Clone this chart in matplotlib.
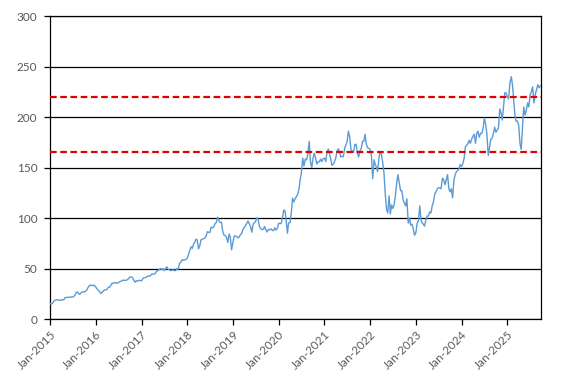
import matplotlib
matplotlib.use("Agg")
import matplotlib.pyplot as plt
import pandas as pd

# Price samples (three per month: days 1, 11, 21)
prices_2015 = [15.4, 14.8, 15.5, 17.7, 18.7, 19.2, 19.0, 18.6, 18.8, 18.6, 19.2, 19.0,
               21.1, 21.3, 21.5, 21.4, 21.8, 21.7, 21.8, 22.5, 24.0, 26.8, 26.5, 24.5,
               25.0, 26.5, 27.0, 26.8, 27.5, 28.5, 31.3, 33.0, 33.5, 33.5, 33.0, 33.5]
prices_2016 = [31.8, 30.0, 28.5, 27.5, 25.2, 26.5, 27.6, 28.9, 28.7, 29.6, 31.5, 31.4,
               33.4, 35.5, 35.3, 36.2, 35.7, 35.6, 36.0, 37.0, 37.3, 38.3, 38.4, 38.3,
               38.5, 38.9, 40.5, 41.5, 41.7, 41.0, 38.3, 36.5, 38.0, 37.5, 38.3, 38.2]
prices_2017 = [37.7, 39.8, 41.0, 41.0, 41.8, 42.6, 42.5, 42.6, 44.3, 44.6, 44.5, 45.3,
               47.4, 47.9, 49.0, 50.0, 49.0, 50.1, 47.9, 49.7, 51.8, 49.4, 48.8, 47.9,
               48.4, 48.7, 47.9, 48.0, 50.0, 49.3, 55.3, 56.3, 58.7, 58.2, 58.5, 58.9]
prices_2018 = [60.2, 63.9, 67.6, 71.6, 70.0, 74.5, 75.6, 79.0, 78.5, 69.5, 72.4, 78.5,
               79.0, 79.5, 80.1, 82.5, 86.4, 86.0, 85.6, 91.0, 90.3, 91.4, 94.3, 95.7,
               100.9, 97.5, 95.6, 96.0, 87.3, 83.2, 82.5, 80.9, 75.8, 84.3, 81.0, 68.5]
prices_2019 = [76.0, 82.2, 82.2, 81.7, 80.3, 81.5, 83.5, 84.5, 88.5, 90.5, 92.5, 94.5,
               97.0, 94.5, 91.5, 86.0, 93.8, 95.5, 96.5, 100.4, 98.8, 91.5, 89.5, 88.5,
               89.0, 91.6, 88.4, 86.2, 88.6, 88.3, 89.3, 87.9, 87.5, 90.3, 88.1, 89.5]
prices_2020 = [94.9, 94.5, 94.6, 100.9, 108.0, 106.9, 98.0, 85.0, 95.2, 95.3, 105.0, 119.7,
               115.9, 119.0, 121.3, 123.6, 128.4, 138.2, 145.2, 159.5, 151.5, 158.5, 157.5, 163.1,
               176.0, 155.7, 150.1, 158.4, 164.2, 160.2, 153.5, 155.6, 155.7, 158.4, 155.9, 158.8]
prices_2021 = [159.3, 155.9, 165.1, 168.4, 163.3, 157.9, 152.3, 153.1, 155.5, 159.3, 166.1, 168.6,
               166.3, 160.5, 161.2, 160.9, 169.0, 172.3, 176.0, 186.0, 180.7, 167.5, 166.4, 165.0,
               173.0, 173.0, 164.0, 160.5, 166.7, 168.6, 176.0, 176.0, 183.0, 173.3, 169.6, 169.1]
prices_2022 = [168.0, 162.0, 139.0, 157.6, 153.0, 150.0, 146.0, 158.0, 166.0, 163.0, 155.0, 145.0,
               124.5, 109.0, 105.0, 122.0, 104.0, 113.0, 109.5, 113.0, 122.0, 135.0, 143.0, 135.0,
               127.0, 127.0, 118.0, 115.0, 112.0, 119.0, 95.0, 100.0, 93.0, 94.0, 89.0, 83.0]
prices_2023 = [85.8, 95.0, 97.0, 112.0, 98.0, 95.0, 94.0, 92.0, 98.0, 102.0, 102.0, 106.0,
               105.0, 112.0, 116.0, 124.0, 126.0, 129.0, 130.0, 130.0, 129.0, 139.5, 138.0, 133.0,
               138.0, 143.0, 129.0, 126.0, 129.0, 120.0, 138.0, 143.0, 146.0, 147.0, 149.0, 153.0]
prices_2024 = [151.0, 154.0, 159.0, 171.0, 172.0, 174.0, 177.0, 174.0, 178.0, 181.0, 183.0, 174.0,
               184.0, 186.0, 180.0, 184.0, 184.0, 189.0, 199.0, 193.0, 183.0, 162.0, 170.0, 178.0,
               179.0, 184.0, 190.0, 185.0, 187.0, 189.0, 208.0, 204.0, 197.0, 211.0, 224.0, 224.0]
prices_2025 = [220.0, 218.0, 234.0, 240.0, 231.0, 216.0, 203.0, 196.0, 196.0, 192.0, 174.0, 168.0,
               189.0, 210.0, 202.0, 207.0, 214.0, 210.0, 222.0, 225.0, 230.0, 214.0, 222.0, 227.0,
               232.0, 229.0, 231.0]

levels = [220, 165]
years = list(range(2015, 2026))
tick_labels = [f"Jan-{y}" for y in years]

all_prices = (prices_2015 + prices_2016 + prices_2017 + prices_2018 + prices_2019 +
              prices_2020 + prices_2021 + prices_2022 + prices_2023 + prices_2024 + prices_2025)
dates = []
for y in years:
    for m in range(1, 13):
        for d in (1, 11, 21):
            dates.append(pd.Timestamp(year=y, month=m, day=d))
dates = dates[:len(all_prices)]

plt.rcParams['font.family'] = ['Lato', 'DejaVu Sans']

fig = plt.figure(figsize=(5.68, 3.83), dpi=100)
ax = fig.add_axes([0.088, 0.167, 0.864, 0.791])

ax.plot(dates, all_prices, color='#5B9BD5', linewidth=1.0, zorder=3)
for lv in levels:
    ax.axhline(lv, color='#E00000', linestyle=(0, (3, 1.6)), linewidth=1.6, zorder=4)

ax.set_ylim(0, 300)
ax.set_yticks(range(0, 301, 50))
ax.yaxis.grid(True, color='black', linewidth=0.9)
ax.set_axisbelow(True)
ax.set_xlim(pd.Timestamp('2015-01-01'), pd.Timestamp('2025-09-24'))
ticks = [pd.Timestamp(year=y, month=1, day=1) for y in years]
ax.set_xticks(ticks)
ax.set_xticklabels(tick_labels, rotation=45, ha='right', va='top', rotation_mode='anchor')

for s in ax.spines.values():
    s.set_color('black')
    s.set_linewidth(0.9)
ax.tick_params(axis='both', colors='black', labelcolor='#595959', labelsize=8.5,
               length=4, width=0.9)
ax.tick_params(axis='y', pad=5)
ax.tick_params(axis='x', pad=3)

fig.savefig('out.png', dpi=100)
